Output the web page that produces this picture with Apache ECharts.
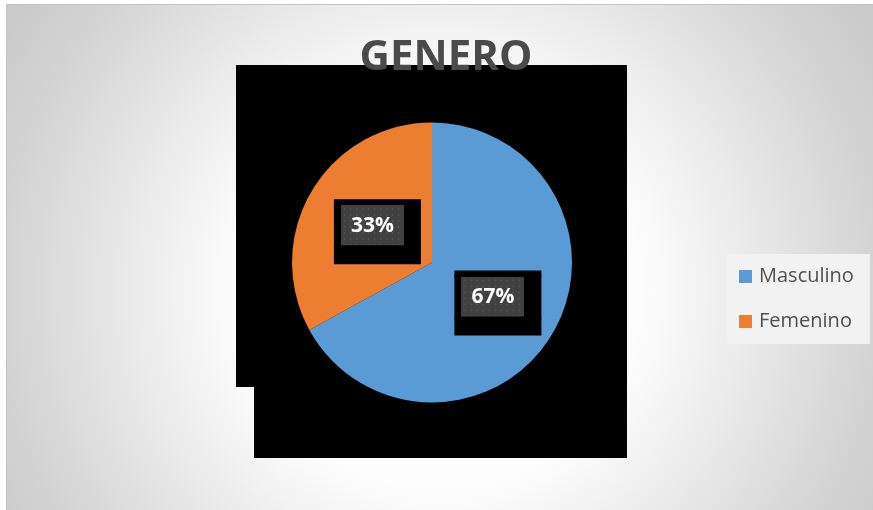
<!DOCTYPE html>
<html>
<head>
<meta charset="utf-8">
<script src="https://cdn.jsdelivr.net/npm/echarts@6/dist/echarts.min.js"></script>
<style>
html,body{margin:0;padding:0;background:#ffffff;}
#chart{width:873px;height:510px;}
</style>
</head>
<body>
<div id="chart"></div>
<script>
// ---- data ----
var titleText = 'GENERO';
var categories = ['Masculino', 'Femenino'];
var values = [67, 33];
var colors = ['#5b9bd5', '#ed7d31'];

// dotted dark pattern for label boxes
function makePattern(w, h) {
  var c = document.createElement('canvas');
  c.width = w; c.height = h;
  var g = c.getContext('2d');
  g.fillStyle = '#404040';
  g.fillRect(0, 0, w, h);
  g.fillStyle = '#5a5a5a';
  for (var y = 3; y < h; y += 6) {
    for (var x = 3; x < w; x += 6) {
      g.fillRect(x, y, 1.5, 1.5);
    }
  }
  return c;
}
var pat = makePattern(63, 41);

var chart = echarts.init(document.getElementById('chart'), null, {renderer: 'canvas'});
var FONT = '"Open Sans", "Liberation Sans", sans-serif';
var BLK = {backgroundColor: '#000', borderColor: '#000', borderWidth: 1};
function blk(o) { return Object.assign({}, BLK, o); }

var CX = 432, CY = 262.5, R = 140;

var option = {
  animation: false,
  backgroundColor: 'transparent',
  title: {
    text: titleText,
    left: 446,
    top: 37,
    textAlign: 'center',
    padding: 0,
    z: 10,
    textStyle: {
      fontFamily: FONT,
      fontSize: 42,
      fontWeight: 'bold',
      color: '#4a4a4a'
    }
  },
  legend: {
    orient: 'vertical',
    left: 727,
    top: 254,
    padding: [12.5, 16, 12.5, 12],
    itemWidth: 13,
    itemHeight: 13,
    itemGap: 25,
    itemStyle: {borderWidth: 0},
    icon: 'rect',
    selectedMode: false,
    backgroundColor: '#f2f2f2',
    textStyle: {
      fontFamily: FONT,
      fontSize: 20,
      lineHeight: 20,
      color: '#505050',
      padding: [0, 0, 0, 2]
    },
    data: categories
  },
  graphic: [
    {
      type: 'rect',
      silent: true,
      shape: {x: 6.5, y: 4.5, width: 880, height: 520},
      style: {
        fill: new echarts.graphic.RadialGradient(440, 290, 540, [
          {offset: 0, color: '#ffffff'},
          {offset: 0.37, color: '#fdfdfd'},
          {offset: 0.48, color: '#f3f3f3'},
          {offset: 0.8, color: '#d4d4d4'},
          {offset: 1, color: '#c6c6c6'}
        ], true),
        stroke: '#c2c2c2',
        lineWidth: 1
      }
    },
    {
      type: 'polygon',
      silent: true,
      shape: {points: [[236, 65], [627, 65], [627, 458], [254, 458], [254, 387], [236, 387]]},
      style: {fill: '#000000'}
    }
  ],
  series: [{
    type: 'pie',
    center: [CX, CY],
    radius: R,
    startAngle: 90,
    clockwise: true,
    silent: true,
    z: 3,
    itemStyle: {borderWidth: 0},
    label: {
      show: true,
      position: 'inside',
      fontFamily: FONT,
      fontSize: 21,
      fontWeight: 'bold',
      color: '#ffffff',
      formatter: function (p) {
        var t = Math.round(p.percent) + '%';
        return '{s0|}\n{s|}{k1|}\n{s|}{bl|}{g|' + t + '}{br|}\n{s|}{k2|}';
      },
      rich: {
        s0: {width: 10, height: 12, lineHeight: 12, align: 'left'},
        s: {width: 10, height: 5, lineHeight: 5, align: 'left'},
        k1: blk({width: 85, height: 5, lineHeight: 5, align: 'left'}),
        bl: blk({width: 6, height: 41, lineHeight: 41, align: 'left'}),
        g: {width: 63, height: 41, lineHeight: 41, align: 'center', backgroundColor: {image: pat},
            fontFamily: FONT, fontSize: 21, fontWeight: 'bold', color: '#ffffff'},
        br: blk({width: 16, height: 41, lineHeight: 41, align: 'right'}),
        k2: blk({width: 85, height: 17, lineHeight: 17, align: 'left'})
      }
    },
    // place the label centre at half the radius along the slice's mid direction
    labelLayout: function (p) {
      var lr = p.labelRect;
      var lx = lr.x + lr.width / 2, ly = lr.y + lr.height / 2;
      var dx = lx - CX, dy = ly - CY;
      var d = Math.sqrt(dx * dx + dy * dy) || 1;
      return {x: CX + dx / d * R * 0.5, y: CY + dy / d * R * 0.5};
    },
    labelLine: {show: false},
    data: categories.map(function (c, i) {
      return {name: c, value: values[i], itemStyle: {color: colors[i]}};
    })
  }]
};
chart.setOption(option);
</script>
</body>
</html>
